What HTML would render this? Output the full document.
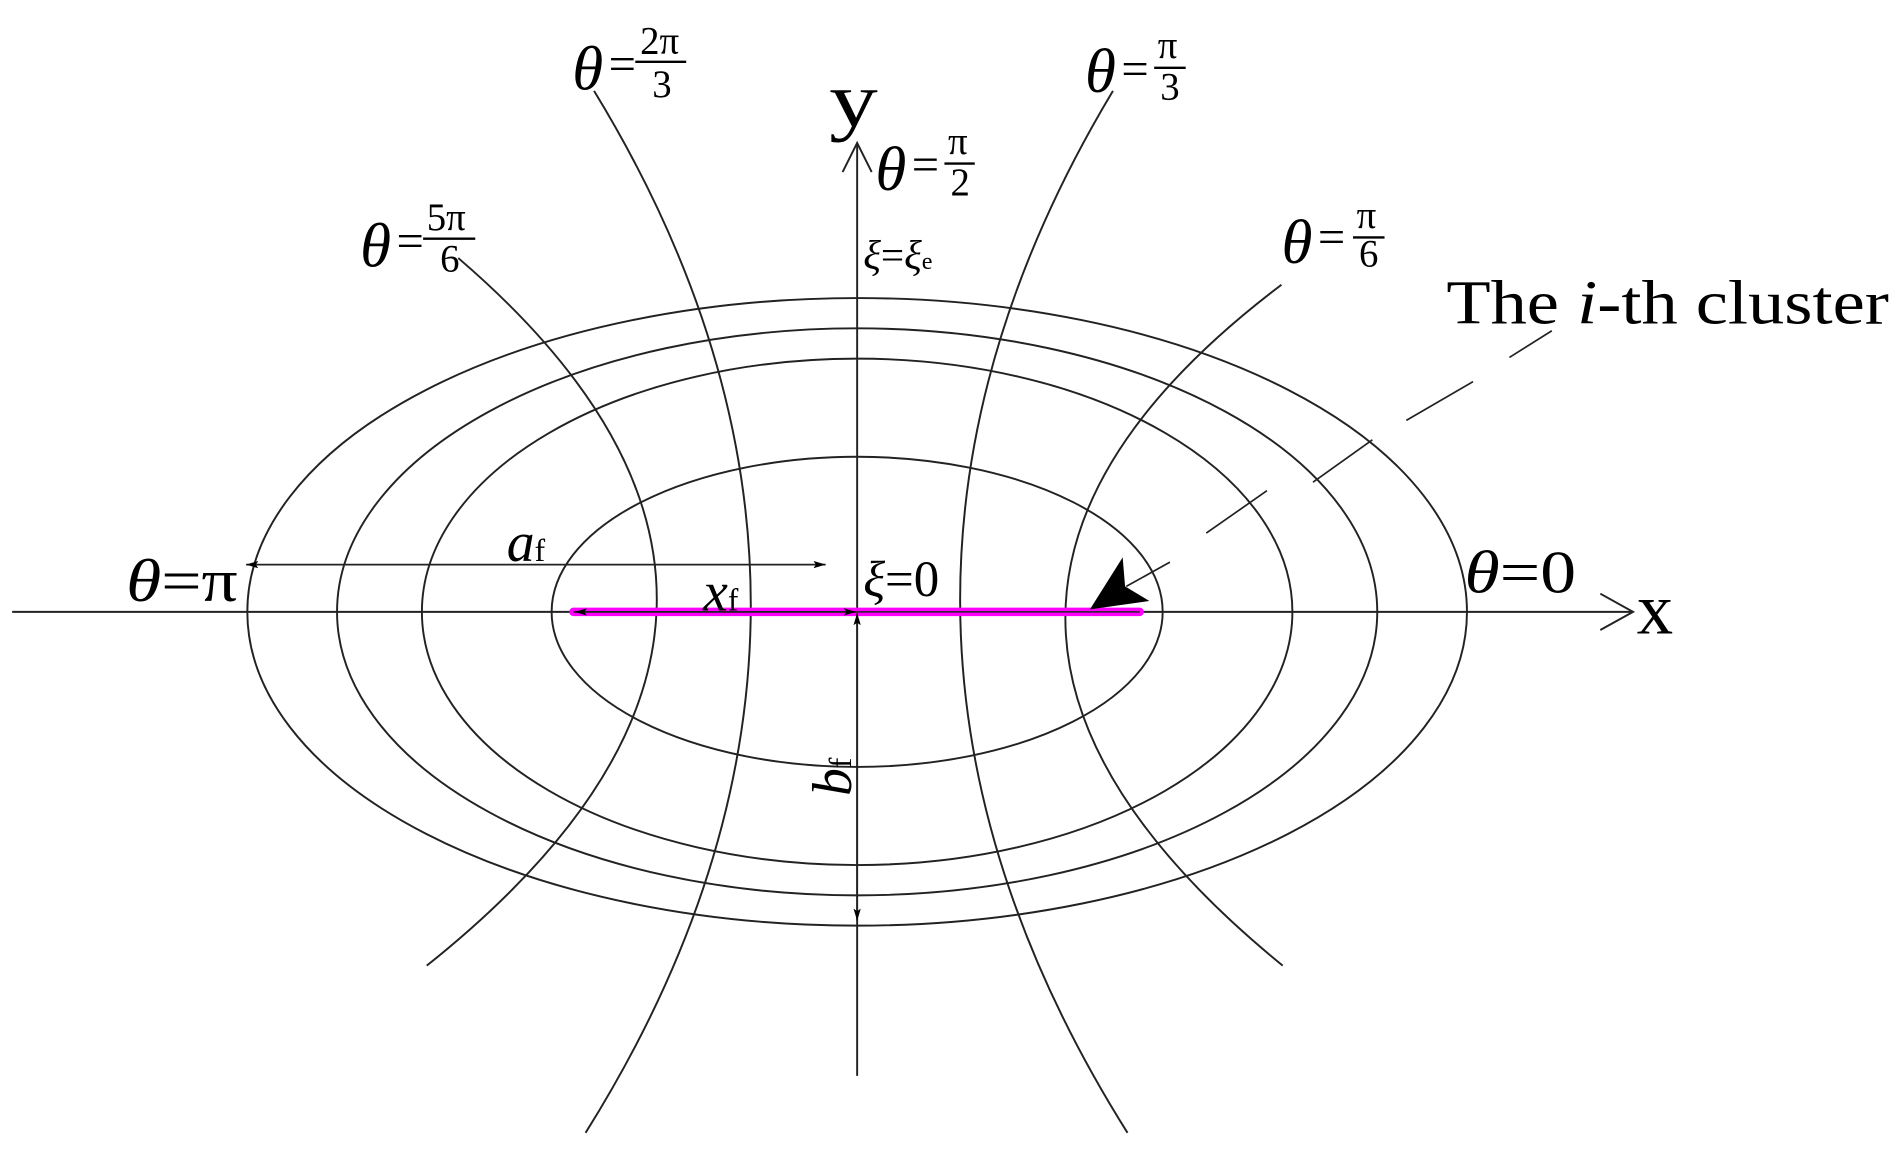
<!DOCTYPE html>
<html><head><meta charset="utf-8"><style>
html,body{margin:0;padding:0;background:#fff;width:1901px;height:1151px;overflow:hidden}
svg{display:block}
text{font-family:"Liberation Serif",serif;fill:#000}
.th{font-style:italic;font-size:52px}
.eq{font-size:40px}
.fr{font-size:32px}
</style></head><body>
<svg width="1901" height="1151" viewBox="0 0 1568 950" preserveAspectRatio="none" xmlns="http://www.w3.org/2000/svg">
<defs>
<marker id="ah" viewBox="0 0 10 6" refX="10" refY="3" markerWidth="10" markerHeight="6" markerUnits="userSpaceOnUse" orient="auto-start-reverse">
<path d="M0,0 L10,3 L0,6 L2,3 Z" fill="#000"/></marker>
</defs>
<g fill="none" stroke="#222" stroke-width="1.6">
<ellipse cx="707" cy="505" rx="503" ry="259"/>
<ellipse cx="707" cy="505" rx="429" ry="234"/>
<ellipse cx="707" cy="505" rx="359" ry="209"/>
<ellipse cx="707" cy="505" rx="252" ry="128"/>
<path d="M918,75 Q660,505 930,935"/>
<path d="M490,75 Q752,505 483,935"/>
<path d="M1057,235 Q700,505 1058,797"/>
<path d="M378,213 Q718,505 352,797"/>
<line x1="10" y1="505" x2="1347" y2="505"/>
<polyline points="1320,490 1347,505 1320,520"/>
<line x1="707" y1="888" x2="707" y2="118"/>
<polyline points="695,142 707,118 719,142"/>
</g>
<line x1="473" y1="505" x2="940" y2="505" stroke="#ff00ff" stroke-width="7" stroke-linecap="round"/>
<line x1="473" y1="505" x2="940" y2="505" stroke="#222" stroke-width="1.2"/>
<g stroke="#222" stroke-width="1.4" fill="none">
<line x1="203" y1="466" x2="681" y2="466" marker-start="url(#ah)" marker-end="url(#ah)"/>
<line x1="474" y1="505" x2="706" y2="505" marker-start="url(#ah)" marker-end="url(#ah)"/>
<line x1="707" y1="506" x2="707" y2="760" marker-start="url(#ah)" marker-end="url(#ah)"/>
<line x1="1280" y1="273" x2="1245" y2="295"/>
<line x1="1215" y1="315" x2="1160" y2="347"/>
<line x1="1132" y1="363" x2="1083" y2="398"/>
<line x1="1045" y1="405" x2="995" y2="440"/>
<line x1="965" y1="464" x2="929" y2="484"/>
</g>
<path d="M899,503 L926,460 L928,484 L948,496 Z" fill="#000"/>
<text x="684" y="104" font-size="64" textLength="40" lengthAdjust="spacingAndGlyphs">y</text>
<text x="1350" y="523" font-size="60">x</text>

<text class="th" x="472" y="74">θ</text><text class="eq" x="502" y="66">=</text>
<text class="fr" x="528" y="44">2π</text><line x1="524" y1="51" x2="566" y2="51" stroke="#000" stroke-width="2"/><text class="fr" x="538" y="80">3</text>

<text class="th" x="895" y="76">θ</text><text class="eq" x="925" y="70">=</text>
<text class="fr" x="955" y="48">π</text><line x1="952" y1="56" x2="978" y2="56" stroke="#000" stroke-width="2"/><text class="fr" x="957" y="82">3</text>

<text class="th" x="722" y="157">θ</text><text class="eq" x="752" y="149">=</text>
<text class="fr" x="782" y="127">π</text><line x1="779" y1="135" x2="804" y2="135" stroke="#000" stroke-width="2"/><text class="fr" x="784" y="161">2</text>

<text class="th" x="297" y="220">θ</text><text class="eq" x="327" y="212">=</text>
<text class="fr" x="352" y="190">5π</text><line x1="349" y1="197" x2="392" y2="197" stroke="#000" stroke-width="2"/><text class="fr" x="363" y="224">6</text>

<text class="th" x="1057" y="217">θ</text><text class="eq" x="1087" y="209">=</text>
<text class="fr" x="1119" y="188">π</text><line x1="1116" y1="196" x2="1142" y2="196" stroke="#000" stroke-width="2"/><text class="fr" x="1121" y="220">6</text>

<text x="712" y="222" font-size="34"><tspan font-style="italic">ξ</tspan>=<tspan font-style="italic">ξ</tspan><tspan font-size="20">e</tspan></text>
<text x="1193" y="267" font-size="52" textLength="365" lengthAdjust="spacingAndGlyphs">The <tspan font-style="italic">i</tspan>-th cluster</text>
<text x="104" y="496" font-size="50" textLength="92" lengthAdjust="spacingAndGlyphs"><tspan font-style="italic">θ</tspan>=π</text>
<text x="1208" y="489" font-size="50" textLength="92" lengthAdjust="spacingAndGlyphs"><tspan font-style="italic">θ</tspan>=0</text>
<text x="418" y="463" font-size="46"><tspan font-style="italic">a</tspan><tspan font-size="26">f</tspan></text>
<text x="580" y="504" font-size="46"><tspan font-style="italic">x</tspan><tspan font-size="26">f</tspan></text>
<text x="712" y="492" font-size="42"><tspan font-style="italic">ξ</tspan>=0</text>
<text transform="translate(702,657) rotate(-90)" font-size="46"><tspan font-style="italic">b</tspan><tspan font-size="26">f</tspan></text>
</svg>
</body></html>
